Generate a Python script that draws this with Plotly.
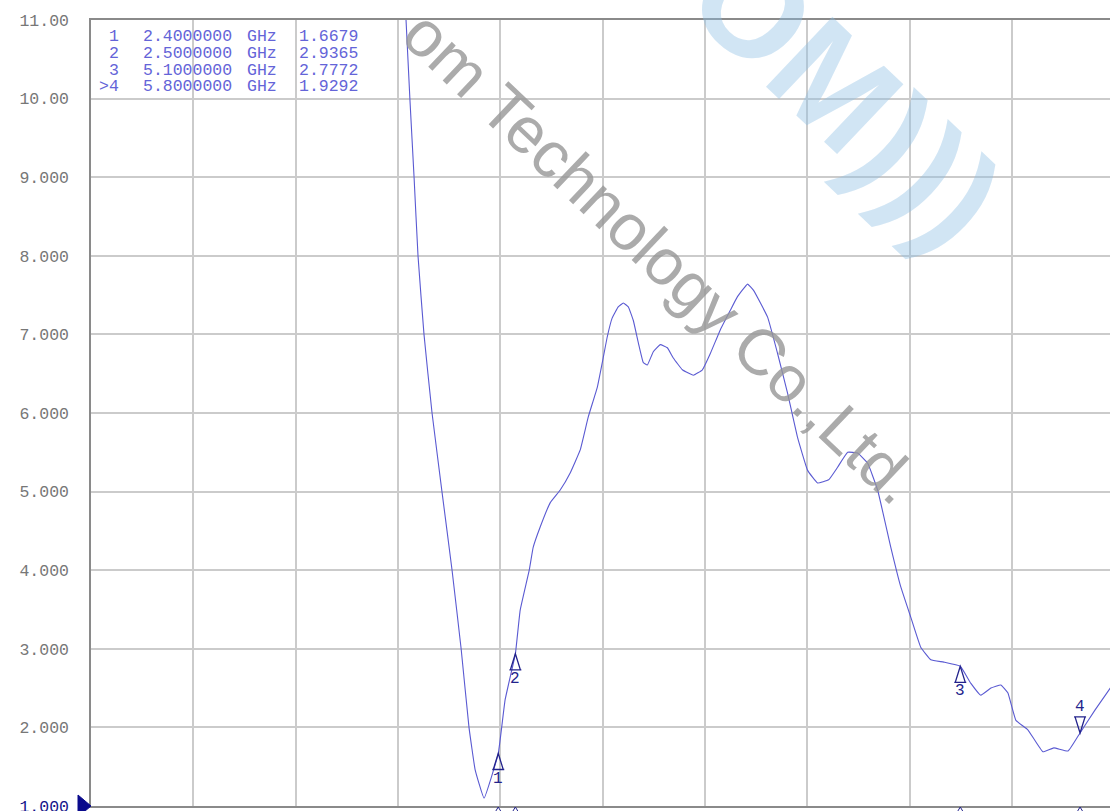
import plotly.graph_objects as go

# ---------------- data ----------------
start_ghz = 0.02
stop_ghz = 6.0
visible_stop_ghz = 5.975

freq_ghz = [1.838, 1.861, 1.884, 1.908, 1.931, 1.966, 2.013, 2.071, 2.130, 2.183,
            2.229, 2.265, 2.317, 2.40, 2.44, 2.50, 2.528, 2.581, 2.604, 2.645,
            2.704, 2.762, 2.821, 2.879, 2.926, 2.979, 3.014, 3.037, 3.066, 3.101,
            3.131, 3.160, 3.189, 3.219, 3.248, 3.271, 3.306, 3.347, 3.388, 3.423,
            3.476, 3.540, 3.593, 3.640, 3.698, 3.757, 3.798, 3.857, 3.892, 3.974,
            4.032, 4.091, 4.149, 4.208, 4.266, 4.331, 4.383, 4.442, 4.500, 4.559,
            4.617, 4.693, 4.752, 4.811, 4.869, 4.928, 5.004, 5.10, 5.162, 5.220,
            5.279, 5.337, 5.378, 5.425, 5.495, 5.583, 5.647, 5.730, 5.80, 5.887,
            5.98]
swr = [12.0, 11.0, 9.98, 9.00, 8.00, 7.00, 6.00, 5.00, 4.00, 3.00,
       2.00, 1.46, 1.10, 1.6679, 2.35, 2.9365, 3.49, 4.00, 4.29, 4.55,
       4.86, 5.02, 5.24, 5.53, 5.95, 6.33, 6.71, 6.97, 7.21, 7.35,
       7.40, 7.35, 7.18, 6.89, 6.64, 6.61, 6.78, 6.87, 6.83, 6.70,
       6.55, 6.48, 6.55, 6.76, 7.06, 7.31, 7.48, 7.64, 7.56, 7.22,
       6.76, 6.25, 5.69, 5.27, 5.11, 5.15, 5.31, 5.50, 5.49, 5.36,
       5.02, 4.30, 3.79, 3.40, 3.02, 2.86, 2.83, 2.7772, 2.56, 2.41,
       2.50, 2.54, 2.44, 2.09, 1.97, 1.69, 1.74, 1.70, 1.9292, 2.22,
       2.51]

marker_ids = ["1", "2", "3", "4"]
marker_labels = [" 1", " 2", " 3", ">4"]
marker_freq = [2.4, 2.5, 5.1, 5.8]
marker_freq_text = ["2.4000000", "2.5000000", "5.1000000", "5.8000000"]
marker_value = [1.6679, 2.9365, 2.7772, 1.9292]
marker_value_text = ["1.6679", "2.9365", "2.7772", "1.9292"]
marker_down = [False, False, False, True]

y_ticks = [1, 2, 3, 4, 5, 6, 7, 8, 9, 10, 11]
y_tick_text = ['<span style="color:#14148a">1.000</span>', "2.000", "3.000", "4.000",
               "5.000", "6.000", "7.000", "8.000", "9.000", "10.00", "11.00"]
n_div = 10

# ---------------- style ----------------
W, H = 1110, 811
ML, MR, MT, MB = 91, 0, 20, 5
PW, PH = W - ML - MR, H - MT - MB
trace_col = "#5a5ad2"
navy = "#23238c"
table_col = "#6464d8"
mono = "Liberation Mono"

x_grid = [start_ghz + k * (stop_ghz - start_ghz) / n_div for k in range(n_div + 1)]

fig = go.Figure()
fig.add_trace(go.Scatter(x=freq_ghz, y=swr, mode="lines",
                         line=dict(color=trace_col, width=1.1, shape="spline", smoothing=0.3),
                         hoverinfo="skip", showlegend=False))

shapes = []
annotations = []

# marker glyphs
for mid, f, v, down in zip(marker_ids, marker_freq, marker_value, marker_down):
    if down:
        path = "M0,0 L-5,16 L5,16 Z M-6,16 L6,16"
        ysh = 26
    else:
        path = "M0,0 L-5,-16 L5,-16 Z M-6,-16 L6,-16"
        ysh = -25
    shapes.append(dict(type="path", xref="x", yref="y", xsizemode="pixel", ysizemode="pixel",
                       xanchor=f, yanchor=v, path=path,
                       line=dict(color=navy, width=1.3)))
    annotations.append(dict(x=f, y=v, xref="x", yref="y", text=mid, showarrow=False,
                            yshift=ysh, font=dict(family=mono, size=16, color=navy)))
    # small carets under the bottom axis
    shapes.append(dict(type="path", xref="x", yref="paper", xsizemode="pixel", ysizemode="pixel",
                       xanchor=f, yanchor=0, path="M0,-1 L-3,-6 L3,-6 Z",
                       line=dict(color=navy, width=1)))

# reference level triangle at the left
shapes.append(dict(type="path", xref="paper", yref="paper", xsizemode="pixel", ysizemode="pixel",
                   xanchor=0, yanchor=0, path="M-13,11 L0,0 L-13,-11 Z",
                   fillcolor="#0a0a8c", line=dict(color="#0a0a8c", width=1)))

# marker table
for i, (lab, ft, vt) in enumerate(zip(marker_labels, marker_freq_text, marker_value_text)):
    cy = 1 - (16.5 + i * 16.8) / PH
    fnt = dict(family=mono, size=16.5, color=table_col)
    annotations.append(dict(x=(121 - ML) / PW, y=cy, xref="paper", yref="paper", text=lab,
                            xanchor="right", yanchor="middle", showarrow=False, font=fnt))
    annotations.append(dict(x=(141 - ML) / PW, y=cy, xref="paper", yref="paper", text=ft,
                            xanchor="left", yanchor="middle", showarrow=False, font=fnt))
    annotations.append(dict(x=(245 - ML) / PW, y=cy, xref="paper", yref="paper", text="GHz",
                            xanchor="left", yanchor="middle", showarrow=False, font=fnt))
    annotations.append(dict(x=(297 - ML) / PW, y=cy, xref="paper", yref="paper", text=vt,
                            xanchor="left", yanchor="middle", showarrow=False, font=fnt))

# watermarks
annotations.append(dict(x=(846 - ML) / PW, y=1 - (95 - MT) / PH, xref="paper", yref="paper",
                        text="<b>OM)))</b>", textangle=43.5, showarrow=False,
                        xanchor="center", yanchor="middle",
                        font=dict(family="Liberation Sans", size=140, color="rgba(140,190,228,0.4)")))
annotations.append(dict(x=(662 - ML) / PW, y=1 - (257 - MT) / PH, xref="paper", yref="paper",
                        text="om Technology Co.,Ltd.", textangle=43.5, showarrow=False,
                        xanchor="center", yanchor="middle",
                        font=dict(family="Liberation Sans", size=65, color="rgba(150,150,150,0.8)")))

fig.update_layout(
    width=W, height=H,
    margin=dict(l=ML, r=MR, t=MT, b=MB, pad=0, autoexpand=False),
    paper_bgcolor="white", plot_bgcolor="white",
    showlegend=False,
    shapes=shapes, annotations=annotations,
    xaxis=dict(range=[start_ghz, visible_stop_ghz], tickvals=x_grid, showticklabels=False,
               showgrid=True, gridcolor="#cbcbcb", gridwidth=1.5, zeroline=False,
               showline=True, linecolor="#8a8a8a", linewidth=1.5, mirror=True, ticks="",
               automargin=False),
    yaxis=dict(range=[1, 11], tickvals=y_ticks, ticktext=y_tick_text,
               showgrid=True, gridcolor="#cbcbcb", gridwidth=1.5, zeroline=False,
               showline=True, linecolor="#8a8a8a", linewidth=1.5, ticks="",
               ticklabelstandoff=17, ticklabeloverflow="allow", automargin=False,
               tickfont=dict(family=mono, size=16.5, color="#777777")),
)

fig.write_html("out.html", config={"displayModeBar": False},
               post_script="document.body.style.margin='0px';document.body.style.overflow='hidden';")
